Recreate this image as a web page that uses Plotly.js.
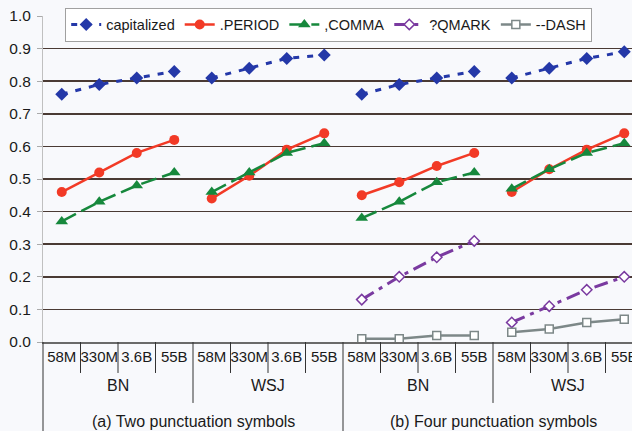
<!DOCTYPE html>
<html>
<head>
<meta charset="utf-8">
<script src="https://cdn.plot.ly/plotly-3.0.1.min.js"></script>
<style>
html,body{margin:0;padding:0;overflow:hidden;background:#f8f9fc;width:632px;height:431px;}
#chart{width:650px;height:431px;}
</style>
</head>
<body>
<div id="chart"></div>
<script>
// ---- data ----
const sizes = ['58M', '330M', '3.6B', '55B'];
const datasets = ['BN', 'WSJ'];
const sections = ['(a) Two punctuation symbols', '(b) Four punctuation symbols'];
const seriesNames = ['capitalized', '.PERIOD', ',COMMA', '?QMARK', '--DASH'];
const capitalized = [0.76, 0.79, 0.81, 0.83, 0.81, 0.84, 0.87, 0.88, 0.76, 0.79, 0.81, 0.83, 0.81, 0.84, 0.87, 0.89];
const period      = [0.46, 0.52, 0.58, 0.62, 0.44, 0.51, 0.59, 0.64, 0.45, 0.49, 0.54, 0.58, 0.46, 0.53, 0.59, 0.64];
const comma       = [0.37, 0.43, 0.48, 0.52, 0.46, 0.52, 0.58, 0.61, 0.38, 0.43, 0.49, 0.52, 0.47, 0.53, 0.58, 0.61];
const qmark       = [null, null, null, null, null, null, null, null, 0.13, 0.20, 0.26, 0.31, 0.06, 0.11, 0.16, 0.20];
const dash        = [null, null, null, null, null, null, null, null, 0.01, 0.01, 0.02, 0.02, 0.03, 0.04, 0.06, 0.07];
const yTicks = [0, 0.1, 0.2, 0.3, 0.4, 0.5, 0.6, 0.7, 0.8, 0.9, 1.0];
const gridVals = [0.1, 0.2, 0.3, 0.4, 0.5, 0.6, 0.7, 0.8, 0.9];

// ---- category layout ----
const cats = [];
sections.forEach(() => datasets.forEach(() => sizes.forEach(s => cats.push(s))));
const nCat = cats.length;
const catIdx = cats.map((_, i) => i);

// break lines between groups of 4
function broken(vals) {
  const xs = [], ys = [];
  vals.forEach((v, i) => {
    xs.push(i); ys.push(v);
    if (i % sizes.length === sizes.length - 1) { xs.push(null); ys.push(null); }
  });
  return {x: xs, y: ys};
}

const FONT = 'Liberation Sans, Arial, sans-serif';
const styles = [
  {color: '#2438a8', dash: '6px,8px', width: 3, symbol: 'diamond', size: 10, fill: '#2438a8'},
  {color: '#f23a26', dash: 'solid', width: 2.5, symbol: 'circle', size: 10, fill: '#f23a26'},
  {color: '#16883c', dash: '16px,6px', width: 2.5, symbol: 'triangle-up', size: 11, fill: '#16883c'},
  {color: '#7a3aa0', dash: '14px,6px,4px,6px', width: 3, symbol: 'diamond', size: 8, fill: '#ffffff'},
  {color: '#7d8888', dash: 'solid', width: 2.5, symbol: 'square', size: 8, fill: '#ffffff'}
];
const allVals = [capitalized, period, comma, qmark, dash];

const traces = allVals.map((vals, k) => {
  const b = broken(vals);
  const st = styles[k];
  return {
    type: 'scatter', mode: 'lines+markers', name: seriesNames[k],
    x: b.x, y: b.y, connectgaps: false,
    line: {color: st.color, width: st.width, dash: st.dash},
    marker: {symbol: st.symbol, size: st.size, color: st.fill,
             line: {color: st.color, width: st.fill === '#ffffff' ? 1.5 : 0}},
    cliponaxis: false
  };
});

// ---- shapes: dividers under the axis ----
const shapes = [];
const divCol = '#333333';
for (let k = 0; k <= nCat; k++) {
  const px = k / nCat;
  let y1 = -0.095;
  if (k % sizes.length === 0) y1 = -0.187;
  if (k % (sizes.length * datasets.length) === 0) y1 = -0.3;
  shapes.push({type: 'line', xref: 'paper', yref: 'paper', x0: px, x1: px, y0: 0, y1: y1,
               line: {color: divCol, width: 1}});
}

// ---- annotations for outer category levels ----
const annotations = [];
sections.forEach((sec, si) => {
  datasets.forEach((ds, di) => {
    const start = (si * datasets.length + di) * sizes.length;
    annotations.push({x: start + (sizes.length - 1) / 2, xref: 'x', y: -0.132, yref: 'paper',
      text: ds, showarrow: false, yanchor: 'middle',
      font: {family: FONT, size: 16, color: '#1a1a1a'}});
  });
  const s0 = si * datasets.length * sizes.length;
  annotations.push({x: s0 + (datasets.length * sizes.length - 1) / 2, xref: 'x', y: -0.245, yref: 'paper',
    text: sec, showarrow: false, yanchor: 'middle',
    font: {family: FONT, size: 16, color: '#1a1a1a'}});
});

const layout = {
  width: 650, height: 431,
  margin: {l: 43, r: 7, t: 16, b: 89},
  paper_bgcolor: '#f8f9fc', plot_bgcolor: '#f8f9fc',
  font: {family: FONT, size: 14, color: '#1a1a1a'},
  showlegend: true,
  legend: {orientation: 'h', x: 0.037, xanchor: 'left', y: 1.026, yanchor: 'top',
           bgcolor: '#ffffff', bordercolor: '#a0a0a0', borderwidth: 1,
           font: {size: 14.5, color: '#1a1a1a'}, tracegroupgap: 0, itemwidth: 30},
  xaxis: {
    range: [-0.5, nCat - 0.5], tickmode: 'array', tickvals: catIdx, ticktext: cats,
    tickangle: 0, automargin: false,
    ticks: '', showgrid: false, zeroline: false, showline: true, linecolor: '#6a6a6a', linewidth: 1.5,
    tickfont: {size: 15, color: '#1a1a1a'}, fixedrange: true
  },
  yaxis: {
    range: [0, 1.0], tickmode: 'array', tickvals: yTicks, tickformat: '.1f',
    ticks: 'outside', ticklen: 5, tickcolor: '#aaaaaa', tickwidth: 1, ticklabelstandoff: 3,
    showgrid: false, zeroline: false, showline: true, linecolor: '#c0c0c0', linewidth: 1,
    tickfont: {size: 15.5, color: '#1a1a1a'},
    minor: {tickmode: 'array', tickvals: gridVals, showgrid: true, gridcolor: '#4a3a34', gridwidth: 1.5, ticks: ''}
  },
  shapes: shapes,
  annotations: annotations
};

Plotly.newPlot('chart', traces, layout, {displayModeBar: false, staticPlot: true});
</script>
</body>
</html>
